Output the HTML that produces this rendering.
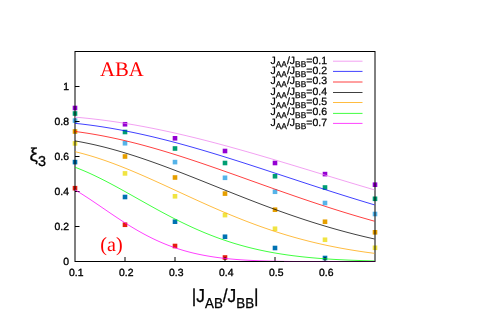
<!DOCTYPE html>
<html><head><meta charset="utf-8"><style>
html,body{margin:0;padding:0;background:#fff;}
svg{display:block;will-change:transform}
text{text-rendering:geometricPrecision;font-family:"Liberation Sans",sans-serif;fill:#000}
.t{font-size:10.4px;stroke:#000;stroke-width:0.35px}
.lg{font-size:10.5px;stroke:#000;stroke-width:0.25px}
.sb{font-size:8.4px}
.r{font-family:"Liberation Serif",serif;font-size:19.5px;fill:#ff0000}
.xl{font-size:18.8px;stroke:#000;stroke-width:0.3px}
.xs{font-size:14.4px}
</style></head><body>
<svg width="500" height="314" viewBox="0 0 500 314">
<defs><clipPath id="cp"><path d="M74.5,50H374.45V261H74.5Z"/></clipPath></defs>
<rect width="500" height="314" fill="#fff"/>
<rect x="72.70" y="105.70" width="4.6" height="4.6" fill="#9400d3"/>
<rect x="122.70" y="121.95" width="4.6" height="4.6" fill="#9400d3"/>
<rect x="172.70" y="136.00" width="4.6" height="4.6" fill="#9400d3"/>
<rect x="222.70" y="148.70" width="4.6" height="4.6" fill="#9400d3"/>
<rect x="272.70" y="160.70" width="4.6" height="4.6" fill="#9400d3"/>
<rect x="322.70" y="171.80" width="4.6" height="4.6" fill="#9400d3"/>
<rect x="372.70" y="182.40" width="4.6" height="4.6" fill="#9400d3"/>
<rect x="72.70" y="111.20" width="4.6" height="4.6" fill="#009e73"/>
<rect x="122.70" y="129.70" width="4.6" height="4.6" fill="#009e73"/>
<rect x="172.70" y="146.20" width="4.6" height="4.6" fill="#009e73"/>
<rect x="222.70" y="160.70" width="4.6" height="4.6" fill="#009e73"/>
<rect x="272.70" y="173.95" width="4.6" height="4.6" fill="#009e73"/>
<rect x="322.70" y="185.20" width="4.6" height="4.6" fill="#009e73"/>
<rect x="372.70" y="196.50" width="4.6" height="4.6" fill="#009e73"/>
<rect x="72.70" y="118.30" width="4.6" height="4.6" fill="#56b4e9"/>
<rect x="122.70" y="140.95" width="4.6" height="4.6" fill="#56b4e9"/>
<rect x="172.70" y="159.80" width="4.6" height="4.6" fill="#56b4e9"/>
<rect x="222.70" y="175.50" width="4.6" height="4.6" fill="#56b4e9"/>
<rect x="272.70" y="189.45" width="4.6" height="4.6" fill="#56b4e9"/>
<rect x="322.70" y="200.70" width="4.6" height="4.6" fill="#56b4e9"/>
<rect x="372.70" y="211.70" width="4.6" height="4.6" fill="#56b4e9"/>
<rect x="72.70" y="129.20" width="4.6" height="4.6" fill="#e69f00"/>
<rect x="122.70" y="154.20" width="4.6" height="4.6" fill="#e69f00"/>
<rect x="172.70" y="175.20" width="4.6" height="4.6" fill="#e69f00"/>
<rect x="222.70" y="191.30" width="4.6" height="4.6" fill="#e69f00"/>
<rect x="272.70" y="207.40" width="4.6" height="4.6" fill="#e69f00"/>
<rect x="322.70" y="219.45" width="4.6" height="4.6" fill="#e69f00"/>
<rect x="372.70" y="230.00" width="4.6" height="4.6" fill="#e69f00"/>
<rect x="72.70" y="141.10" width="4.6" height="4.6" fill="#f0e442"/>
<rect x="122.70" y="171.10" width="4.6" height="4.6" fill="#f0e442"/>
<rect x="172.70" y="194.00" width="4.6" height="4.6" fill="#f0e442"/>
<rect x="222.70" y="212.80" width="4.6" height="4.6" fill="#f0e442"/>
<rect x="272.70" y="226.45" width="4.6" height="4.6" fill="#f0e442"/>
<rect x="322.70" y="237.45" width="4.6" height="4.6" fill="#f0e442"/>
<rect x="372.70" y="245.50" width="4.6" height="4.6" fill="#f0e442"/>
<rect x="72.70" y="159.80" width="4.6" height="4.6" fill="#0072b2"/>
<rect x="122.70" y="194.70" width="4.6" height="4.6" fill="#0072b2"/>
<rect x="172.70" y="219.40" width="4.6" height="4.6" fill="#0072b2"/>
<rect x="222.70" y="234.45" width="4.6" height="4.6" fill="#0072b2"/>
<rect x="272.70" y="245.70" width="4.6" height="4.6" fill="#0072b2"/>
<rect x="322.70" y="255.70" width="4.6" height="4.6" fill="#0072b2"/>
<rect x="72.70" y="185.90" width="4.6" height="4.6" fill="#e51e10"/>
<rect x="122.70" y="222.45" width="4.6" height="4.6" fill="#e51e10"/>
<rect x="172.70" y="243.70" width="4.6" height="4.6" fill="#e51e10"/>
<rect x="222.70" y="255.20" width="4.6" height="4.6" fill="#e51e10"/>
<rect x="75" y="51.5" width="300" height="210.0" fill="none" stroke="#000" stroke-width="1"/>
<path d="M125,261.5v-4.5" stroke="#000" stroke-width="1"/>
<path d="M175,261.5v-4.5" stroke="#000" stroke-width="1"/>
<path d="M225,261.5v-4.5" stroke="#000" stroke-width="1"/>
<path d="M275,261.5v-4.5" stroke="#000" stroke-width="1"/>
<path d="M325,261.5v-4.5" stroke="#000" stroke-width="1"/>
<path d="M75,86.5h4.5" stroke="#000" stroke-width="1"/>
<path d="M75,121.5h4.5" stroke="#000" stroke-width="1"/>
<path d="M75,156.5h4.5" stroke="#000" stroke-width="1"/>
<path d="M75,191.5h4.5" stroke="#000" stroke-width="1"/>
<path d="M75,226.5h4.5" stroke="#000" stroke-width="1"/>
<polyline clip-path="url(#cp)" points="75,117.14 78,117.40 81,117.68 84,117.97 87,118.27 90,118.59 93,118.93 96,119.27 99,119.63 102,120.01 105,120.40 108,120.80 111,121.22 114,121.65 117,122.10 120,122.55 123,123.02 126,123.51 129,124.00 132,124.51 135,125.03 138,125.57 141,126.11 144,126.67 147,127.24 150,127.82 153,128.41 156,129.02 159,129.63 162,130.26 165,130.90 168,131.54 171,132.20 174,132.87 177,133.55 180,134.24 183,134.94 186,135.64 189,136.36 192,137.09 195,137.82 198,138.56 201,139.31 204,140.07 207,140.84 210,141.62 213,142.40 216,143.19 219,143.99 222,144.79 225,145.61 228,146.42 231,147.25 234,148.08 237,148.91 240,149.76 243,150.60 246,151.45 249,152.31 252,153.17 255,154.04 258,154.91 261,155.79 264,156.67 267,157.55 270,158.43 273,159.32 276,160.22 279,161.11 282,162.01 285,162.91 288,163.81 291,164.72 294,165.62 297,166.53 300,167.44 303,168.35 306,169.26 309,170.17 312,171.08 315,172.00 318,172.91 321,173.82 324,174.74 327,175.65 330,176.56 333,177.47 336,178.38 339,179.29 342,180.20 345,181.10 348,182.01 351,182.91 354,183.81 357,184.71 360,185.60 363,186.50 366,187.39 369,188.27 372,189.16 375,190.04" fill="none" stroke="#ee82ee" stroke-width="0.75" stroke-linejoin="round"/>
<polyline clip-path="url(#cp)" points="75,123.33 78,123.65 81,123.98 84,124.34 87,124.71 90,125.09 93,125.50 96,125.92 99,126.36 102,126.81 105,127.29 108,127.77 111,128.28 114,128.80 117,129.33 120,129.88 123,130.45 126,131.03 129,131.63 132,132.24 135,132.86 138,133.50 141,134.16 144,134.82 147,135.50 150,136.20 153,136.90 156,137.62 159,138.35 162,139.10 165,139.85 168,140.62 171,141.40 174,142.19 177,142.98 180,143.80 183,144.62 186,145.45 189,146.29 192,147.13 195,147.99 198,148.86 201,149.73 204,150.62 207,151.51 210,152.41 213,153.31 216,154.22 219,155.14 222,156.07 225,157.00 228,157.94 231,158.88 234,159.83 237,160.78 240,161.74 243,162.70 246,163.66 249,164.63 252,165.60 255,166.58 258,167.55 261,168.53 264,169.52 267,170.50 270,171.49 273,172.47 276,173.46 279,174.45 282,175.44 285,176.43 288,177.42 291,178.41 294,179.39 297,180.38 300,181.37 303,182.35 306,183.34 309,184.32 312,185.30 315,186.28 318,187.25 321,188.22 324,189.19 327,190.16 330,191.12 333,192.08 336,193.03 339,193.98 342,194.93 345,195.87 348,196.81 351,197.74 354,198.67 357,199.59 360,200.51 363,201.42 366,202.33 369,203.23 372,204.13 375,205.01" fill="none" stroke="#0000ff" stroke-width="0.75" stroke-linejoin="round"/>
<polyline clip-path="url(#cp)" points="75,131.48 78,131.87 81,132.28 84,132.72 87,133.17 90,133.65 93,134.15 96,134.67 99,135.20 102,135.76 105,136.34 108,136.94 111,137.55 114,138.19 117,138.84 120,139.51 123,140.20 126,140.90 129,141.63 132,142.37 135,143.12 138,143.89 141,144.68 144,145.48 147,146.30 150,147.13 153,147.98 156,148.84 159,149.71 162,150.59 165,151.49 168,152.40 171,153.32 174,154.25 177,155.20 180,156.15 183,157.11 186,158.08 189,159.07 192,160.06 195,161.05 198,162.06 201,163.07 204,164.09 207,165.12 210,166.15 213,167.19 216,168.23 219,169.28 222,170.33 225,171.39 228,172.45 231,173.51 234,174.57 237,175.64 240,176.71 243,177.78 246,178.85 249,179.93 252,181.00 255,182.07 258,183.14 261,184.22 264,185.29 267,186.35 270,187.42 273,188.49 276,189.55 279,190.61 282,191.66 285,192.72 288,193.76 291,194.81 294,195.85 297,196.88 300,197.91 303,198.94 306,199.96 309,200.97 312,201.98 315,202.98 318,203.97 321,204.96 324,205.94 327,206.91 330,207.88 333,208.84 336,209.79 339,210.73 342,211.66 345,212.59 348,213.50 351,214.41 354,215.31 357,216.20 360,217.08 363,217.95 366,218.81 369,219.67 372,220.51 375,221.34" fill="none" stroke="#ff0000" stroke-width="0.75" stroke-linejoin="round"/>
<polyline clip-path="url(#cp)" points="75,140.91 78,141.43 81,141.98 84,142.56 87,143.16 90,143.79 93,144.44 96,145.12 99,145.83 102,146.56 105,147.31 108,148.09 111,148.89 114,149.72 117,150.56 120,151.43 123,152.32 126,153.22 129,154.15 132,155.10 135,156.06 138,157.04 141,158.04 144,159.06 147,160.09 150,161.13 153,162.19 156,163.27 159,164.35 162,165.45 165,166.56 168,167.68 171,168.81 174,169.95 177,171.10 180,172.26 183,173.42 186,174.59 189,175.77 192,176.95 195,178.14 198,179.33 201,180.53 204,181.73 207,182.93 210,184.13 213,185.33 216,186.53 219,187.74 222,188.94 225,190.14 228,191.33 231,192.53 234,193.72 237,194.91 240,196.09 243,197.27 246,198.45 249,199.61 252,200.78 255,201.93 258,203.08 261,204.22 264,205.35 267,206.48 270,207.59 273,208.70 276,209.79 279,210.88 282,211.96 285,213.02 288,214.08 291,215.12 294,216.15 297,217.17 300,218.18 303,219.18 306,220.16 309,221.14 312,222.10 315,223.04 318,223.97 321,224.89 324,225.80 327,226.69 330,227.57 333,228.44 336,229.29 339,230.13 342,230.95 345,231.76 348,232.56 351,233.34 354,234.11 357,234.86 360,235.60 363,236.33 366,237.04 369,237.74 372,238.43 375,239.10" fill="none" stroke="#000000" stroke-width="0.75" stroke-linejoin="round"/>
<polyline clip-path="url(#cp)" points="75,151.68 78,152.41 81,153.18 84,153.98 87,154.82 90,155.69 93,156.59 96,157.53 99,158.50 102,159.50 105,160.53 108,161.59 111,162.68 114,163.79 117,164.93 120,166.09 123,167.27 126,168.48 129,169.70 132,170.95 135,172.21 138,173.49 141,174.78 144,176.09 147,177.41 150,178.75 153,180.09 156,181.44 159,182.80 162,184.17 165,185.54 168,186.92 171,188.31 174,189.69 177,191.08 180,192.46 183,193.85 186,195.23 189,196.61 192,197.99 195,199.36 198,200.72 201,202.08 204,203.43 207,204.77 210,206.11 213,207.43 216,208.74 219,210.04 222,211.33 225,212.60 228,213.87 231,215.11 234,216.34 237,217.56 240,218.76 243,219.94 246,221.11 249,222.26 252,223.39 255,224.51 258,225.60 261,226.68 264,227.74 267,228.78 270,229.80 273,230.80 276,231.78 279,232.74 282,233.68 285,234.60 288,235.50 291,236.38 294,237.24 297,238.08 300,238.90 303,239.70 306,240.48 309,241.25 312,241.99 315,242.71 318,243.41 321,244.10 324,244.76 327,245.41 330,246.03 333,246.64 336,247.23 339,247.81 342,248.36 345,248.90 348,249.43 351,249.93 354,250.42 357,250.89 360,251.35 363,251.79 366,252.22 369,252.63 372,253.03 375,253.41" fill="none" stroke="#ffa500" stroke-width="0.75" stroke-linejoin="round"/>
<polyline clip-path="url(#cp)" points="75,167.23 78,168.38 81,169.59 84,170.84 87,172.14 90,173.48 93,174.87 96,176.30 99,177.76 102,179.25 105,180.78 108,182.34 111,183.92 114,185.52 117,187.14 120,188.79 123,190.44 126,192.11 129,193.79 132,195.48 135,197.16 138,198.86 141,200.55 144,202.23 147,203.92 150,205.59 153,207.26 156,208.91 159,210.55 162,212.18 165,213.78 168,215.37 171,216.94 174,218.49 177,220.01 180,221.51 183,222.98 186,224.42 189,225.84 192,227.22 195,228.58 198,229.91 201,231.20 204,232.47 207,233.70 210,234.90 213,236.06 216,237.20 219,238.30 222,239.36 225,240.39 228,241.39 231,242.36 234,243.30 237,244.20 240,245.07 243,245.90 246,246.71 249,247.49 252,248.23 255,248.95 258,249.63 261,250.29 264,250.92 267,251.52 270,252.10 273,252.65 276,253.17 279,253.67 282,254.15 285,254.60 288,255.04 291,255.45 294,255.83 297,256.20 300,256.55 303,256.88 306,257.20 309,257.49 312,257.77 315,258.04 318,258.29 321,258.52 324,258.74 327,258.95 330,259.14 333,259.33 336,259.50 339,259.66 342,259.81 345,259.95 348,260.09 351,260.21 354,260.32 357,260.43 360,260.53 363,260.63 366,260.71 369,260.79 372,260.87 375,260.94" fill="none" stroke="#00ff00" stroke-width="0.75" stroke-linejoin="round"/>
<polyline clip-path="url(#cp)" points="75,189.88 78,191.68 81,193.53 84,195.43 87,197.37 90,199.34 93,201.35 96,203.38 99,205.42 102,207.47 105,209.52 108,211.57 111,213.61 114,215.63 117,217.64 120,219.62 123,221.57 126,223.48 129,225.36 132,227.20 135,228.99 138,230.74 141,232.43 144,234.08 147,235.66 150,237.20 153,238.68 156,240.10 159,241.46 162,242.77 165,244.02 168,245.21 171,246.34 174,247.42 177,248.44 180,249.40 183,250.32 186,251.18 189,251.99 192,252.75 195,253.47 198,254.13 201,254.76 204,255.34 207,255.89 210,256.39 213,256.86 216,257.30 219,257.70 222,258.07 225,258.41 228,258.72 231,259.01 234,259.28 237,259.52 240,259.74 243,259.95 246,260.13 249,260.30 252,260.45 255,260.59 258,260.71 261,260.83 264,260.93 267,261.02 270,261.10 273,261.18 276,261.24 279,261.30 282,261.35 285,261.40 288,261.44 291,261.48 294,261.51 297,261.54 300,261.57 303,261.59 306,261.61 309,261.63 312,261.65 315,261.66 318,261.67 321,261.68 324,261.69 327,261.70 330,261.71 333,261.71 336,261.72 339,261.72 342,261.73 345,261.73 348,261.73 351,261.74 354,261.74 357,261.74 360,261.74 363,261.74 366,261.74 369,261.74 372,261.75 375,261.75" fill="none" stroke="#ff00ff" stroke-width="0.75" stroke-linejoin="round"/>
<path d="M284,261.5H375" stroke="#ff00ff" stroke-opacity="0.2" stroke-width="1"/>
<text x="69" y="265.1" text-anchor="end" class="t">0</text>
<text x="69" y="230.1" text-anchor="end" class="t">0.2</text>
<text x="69" y="195.1" text-anchor="end" class="t">0.4</text>
<text x="69" y="160.1" text-anchor="end" class="t">0.6</text>
<text x="69" y="125.1" text-anchor="end" class="t">0.8</text>
<text x="69" y="90.1" text-anchor="end" class="t">1</text>
<text x="76.3" y="275.7" text-anchor="middle" class="t">0.1</text>
<text x="126.3" y="275.7" text-anchor="middle" class="t">0.2</text>
<text x="176.3" y="275.7" text-anchor="middle" class="t">0.3</text>
<text x="226.3" y="275.7" text-anchor="middle" class="t">0.4</text>
<text x="276.3" y="275.7" text-anchor="middle" class="t">0.5</text>
<text x="326.3" y="275.7" text-anchor="middle" class="t">0.6</text>
<text x="327" y="63.60" text-anchor="end" class="lg">J<tspan class="sb" dy="3.2">AA</tspan><tspan dy="-3.2">/J</tspan><tspan class="sb" dy="3.2">BB</tspan><tspan dy="-3.2">=0.1</tspan></text>
<path d="M333,61.20H362.5" stroke="#ee82ee" stroke-width="0.75"/>
<text x="327" y="73.93" text-anchor="end" class="lg">J<tspan class="sb" dy="3.2">AA</tspan><tspan dy="-3.2">/J</tspan><tspan class="sb" dy="3.2">BB</tspan><tspan dy="-3.2">=0.2</tspan></text>
<path d="M333,71.40H362.5" stroke="#0000ff" stroke-width="0.75"/>
<text x="327" y="84.26" text-anchor="end" class="lg">J<tspan class="sb" dy="3.2">AA</tspan><tspan dy="-3.2">/J</tspan><tspan class="sb" dy="3.2">BB</tspan><tspan dy="-3.2">=0.3</tspan></text>
<path d="M333,82.00H362.5" stroke="#ff0000" stroke-width="0.75"/>
<text x="327" y="94.59" text-anchor="end" class="lg">J<tspan class="sb" dy="3.2">AA</tspan><tspan dy="-3.2">/J</tspan><tspan class="sb" dy="3.2">BB</tspan><tspan dy="-3.2">=0.4</tspan></text>
<path d="M333,92.50H362.5" stroke="#000000" stroke-width="0.75"/>
<text x="327" y="104.92" text-anchor="end" class="lg">J<tspan class="sb" dy="3.2">AA</tspan><tspan dy="-3.2">/J</tspan><tspan class="sb" dy="3.2">BB</tspan><tspan dy="-3.2">=0.5</tspan></text>
<path d="M333,102.50H362.5" stroke="#ffa500" stroke-width="0.75"/>
<text x="327" y="115.25" text-anchor="end" class="lg">J<tspan class="sb" dy="3.2">AA</tspan><tspan dy="-3.2">/J</tspan><tspan class="sb" dy="3.2">BB</tspan><tspan dy="-3.2">=0.6</tspan></text>
<path d="M333,113.40H362.5" stroke="#00ff00" stroke-width="0.75"/>
<text x="327" y="125.58" text-anchor="end" class="lg">J<tspan class="sb" dy="3.2">AA</tspan><tspan dy="-3.2">/J</tspan><tspan class="sb" dy="3.2">BB</tspan><tspan dy="-3.2">=0.7</tspan></text>
<path d="M333,123.40H362.5" stroke="#ff00ff" stroke-width="0.75"/>
<text x="100" y="75.8" class="r" style="font-size:20.7px">ABA</text>
<text x="100.3" y="251" class="r" style="font-size:20.1px">(a)</text>
<text transform="translate(191.8,302) scale(0.925,1)" class="xl">|J<tspan class="xs" dy="5.5">AB</tspan><tspan dy="-5.5">/J</tspan><tspan class="xs" dy="5.5">BB</tspan><tspan dy="-5.5">|</tspan></text>
<text x="29.5" y="161" class="xl">ξ<tspan class="xs" dy="5.3">3</tspan></text>
</svg>
</body></html>
